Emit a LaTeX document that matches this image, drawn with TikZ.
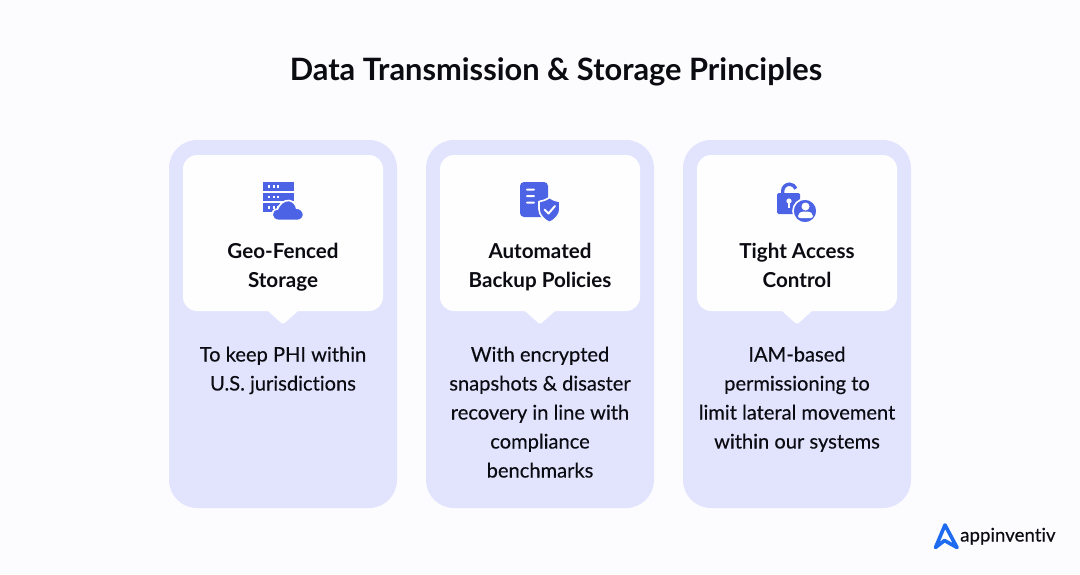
\documentclass[tikz,border=0pt]{standalone}
\usepackage{fontspec}
\setmainfont[Ligatures=NoCommon]{Lato}
\newfontfamily\mediumfont[Ligatures=NoCommon,FakeBold=0.3]{Lato}
\definecolor{pagebg}{HTML}{FCFCFF}
\definecolor{cardbg}{HTML}{E2E4FD}
\definecolor{innerbg}{HTML}{FEFEFF}
\definecolor{iconblue}{HTML}{4C63E6}
\definecolor{logoblue}{HTML}{1F6BEF}
\definecolor{ink}{HTML}{0B0B12}
\tikzset{
  x=1pt,y=-1pt,
  card/.style={fill=cardbg,rounded corners=28pt},
  inner card/.style={fill=innerbg,rounded corners=14pt},
  pointer/.style={fill=innerbg,rounded corners=1.5pt},
  heading/.style={font=\fontsize{20.6}{29}\selectfont\bfseries,text=ink,align=center,inner sep=0pt,anchor=base},
  body/.style={font=\fontsize{20.1}{29}\selectfont\mediumfont,text=ink,align=center,inner sep=0pt,anchor=base},
  icon/.style={fill=iconblue},
  knock/.style={fill=innerbg},
  halo/.style={draw=innerbg,line width=1.6pt,fill=iconblue},
}
\newcommand{\cardbase}[1]{%
  \fill[card] (#1,140) rectangle ++(228,368);
  \fill[inner card] (#1+14,155) rectangle ++(200,156);
  \fill[pointer] (#1+98,310) -- (#1+114,324.5) -- (#1+130,310) -- cycle;
}
\begin{document}
\begin{tikzpicture}
\useasboundingbox (0,0) rectangle (1080,574);
\fill[pagebg] (0,0) rectangle (1080,574);
\node[font=\fontsize{30.8}{34}\selectfont\bfseries,text=ink,inner sep=0pt,anchor=base] (title) at (556,80) {Data Transmission \& Storage Principles};

\cardbase{169}\cardbase{426}\cardbase{683}

% server + cloud icon
\foreach \yy in {182,192.5,203}{
  \fill[icon] (263,\yy) rectangle (294,\yy+8.8);
  \foreach \xx in {268,272.5,277}
    \fill[knock] (\xx,\yy+3.2) rectangle ++(2.4,2.4);
}
\draw[halo] (279,220.5) .. controls (270,220.5) and (270,209.5) .. (277.5,209)
  .. controls (279,204.5) and (284,200) .. (289,200.5)
  .. controls (293,201) and (296,204.5) .. (296.5,208)
  .. controls (305.5,208.5) and (306,220.5) .. (297,220.5) -- cycle;

% document + shield icon
\fill[icon,rounded corners=4pt] (520,182) rectangle (548,217);
\fill[knock,rounded corners=1pt] (526,188.5) rectangle (535,190.5);
\fill[knock,rounded corners=1pt] (526,195) rectangle (535,197);
\fill[knock,rounded corners=1pt] (526,201.5) rectangle (535,203.5);
\draw[halo,line join=round] (549.5,197.5) .. controls (545,200.5) and (542,201) .. (539,201.5)
  -- (539,209) .. controls (539,215) and (544,220) .. (549.5,222.5)
  .. controls (555,220) and (560,215) .. (560,209) -- (560,201.5)
  .. controls (557,201) and (554,200.5) .. (549.5,197.5) -- cycle;
\draw[draw=innerbg,line width=2pt,line cap=round,line join=round] (544.5,209.5) -- (548.5,213.5) -- (555,206);

% lock + user icon
\draw[iconblue,line width=3.4pt] (782.7,194) -- (782.7,191) arc[start angle=180,end angle=340,radius=6.8];
\fill[icon,rounded corners=1.5pt] (777,193) rectangle (800,214);
\fill[knock] (789,201) circle[radius=2.6];
\fill[knock] (787.8,202) rectangle (790.2,208);
\draw[halo] (805,211) circle[radius=12];
\fill[knock] (805.5,206.5) circle[radius=4];
\fill[knock,rounded corners=2pt] (798,218) .. controls (798,213) and (801,211.5) .. (805.5,211.5)
  .. controls (810,211.5) and (813,213) .. (813,218) -- cycle;

% headings
\node[heading] (h1a) at (283,258.5) {Geo-Fenced};
\node[heading] (h1b) at (283,287.5) {Storage};
\node[heading] (h2a) at (540,258.5) {Automated};
\node[heading] (h2b) at (540,287.5) {Backup Policies};
\node[heading] (h3a) at (797,258.5) {Tight Access};
\node[heading] (h3b) at (797,287.5) {Control};

% body text
\node[body] (b1a) at (283,361.5) {To keep PHI within};
\node[body] (b1b) at (283,390.5) {U.S. jurisdictions};

\node[body] (b2a) at (540,361.5) {With encrypted};
\node[body] (b2b) at (540,390.5) {snapshots \& disaster};
\node[body] (b2c) at (540,419.5) {recovery in line with};
\node[body] (b2d) at (540,448.5) {compliance};
\node[body] (b2e) at (540,477.5) {benchmarks};

\node[body] (b3a) at (797,361.5) {IAM-based};
\node[body] (b3b) at (797,390.5) {permissioning to};
\node[body] (b3c) at (797,419.5) {limit lateral movement};
\node[body] (b3d) at (797,448.5) {within our systems};

% logo
\draw[logoblue,line width=3.6pt,line join=round,line cap=round] (935.5,547.5) -- (945,525) -- (957,547.5) -- (944.5,540.5) -- cycle;
\node[font=\fontsize{18.7}{24}\selectfont\mediumfont,text=ink,inner sep=0pt,anchor=base west] (logo) at (960,541.5) {appinventiv};
\end{tikzpicture}
\end{document}
